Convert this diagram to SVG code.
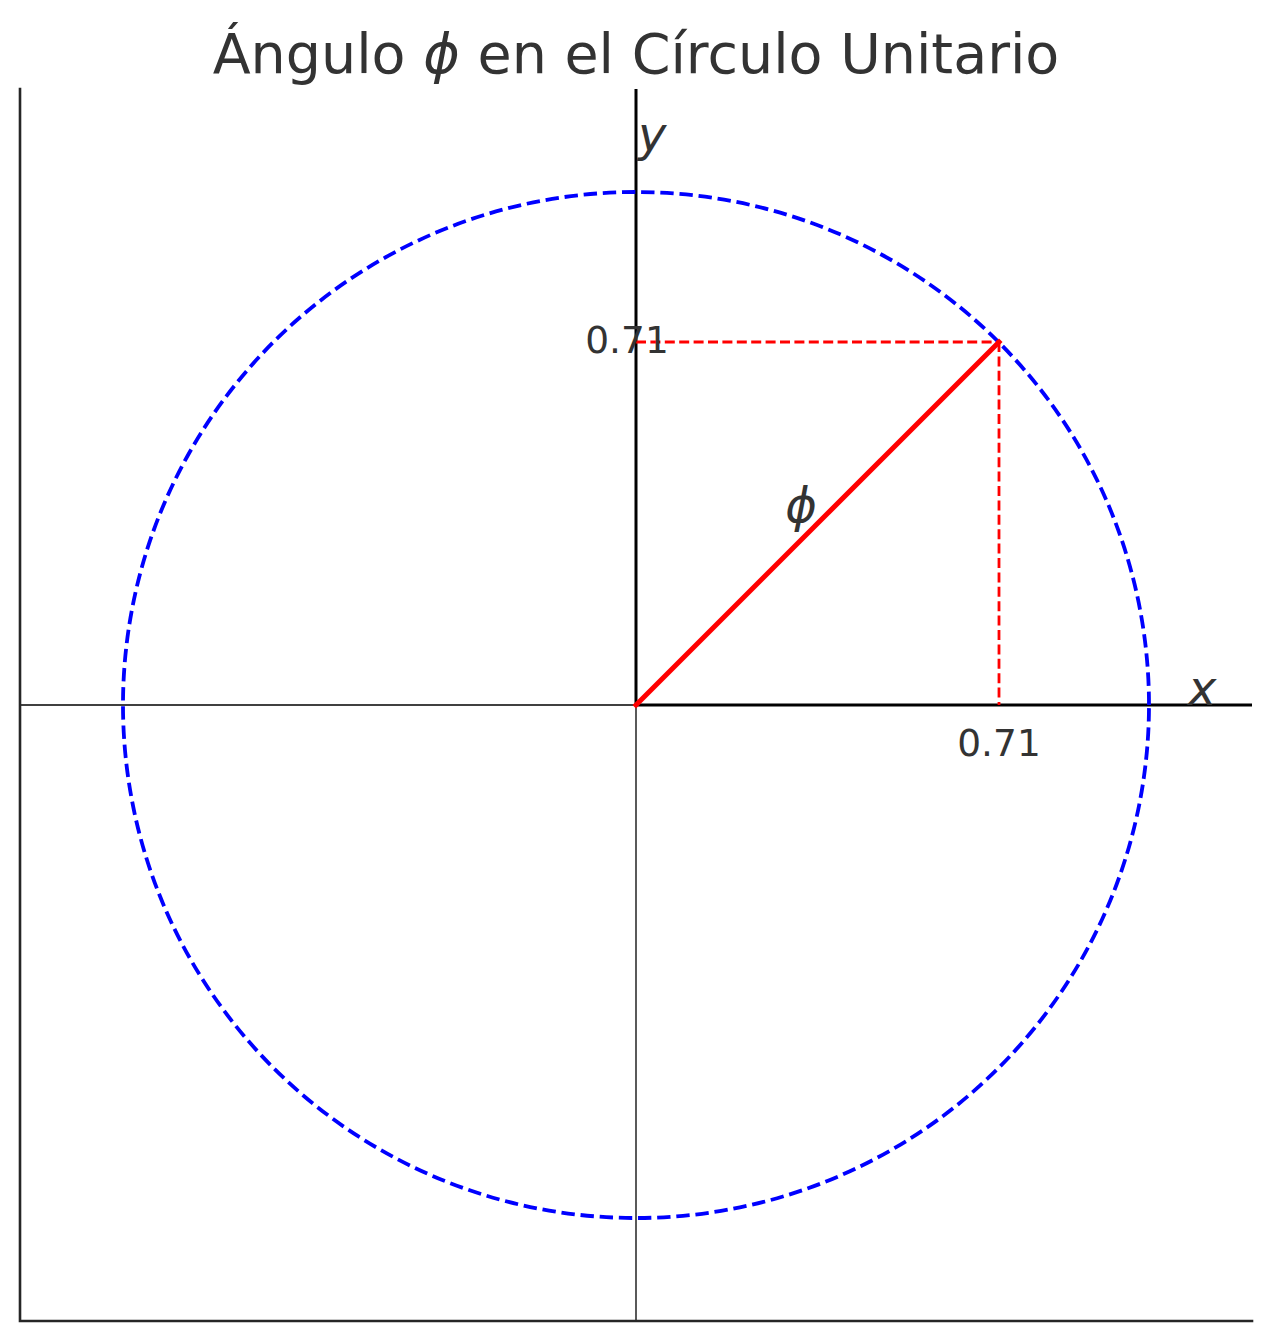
<svg xmlns="http://www.w3.org/2000/svg" width="1272" height="1341" viewBox="0 0 1272 1341">
<style>
text { font-family: "DejaVu Sans", "Liberation Sans", sans-serif; fill: #333333; }
.title { font-size: 55.5px; text-anchor: middle; }
.math { font-style: italic; font-size: 48px; }
.tick { font-size: 37.5px; }
.spine { stroke: #262626; stroke-width: 2.6; fill: none; stroke-linecap: square; }
.thin { stroke: #000000; stroke-width: 1.3; }
.thick { stroke: #000000; stroke-width: 3; }
.reddash { stroke: #ff0000; stroke-width: 2.8; stroke-dasharray: 10 4.4; fill: none; }
.vec { stroke: #ff0000; stroke-width: 5; stroke-linecap: square; }
.circ { stroke: #0000ff; stroke-width: 3.8; stroke-dasharray: 13.4 5.8; fill: none; }
</style>
<rect width="1272" height="1341" fill="#ffffff"/>
<g id="axes">
<line class="thin" x1="20" y1="705" x2="1252" y2="705"/>
<line class="thin" x1="636" y1="89" x2="636" y2="1321"/>
<line class="thick" x1="636" y1="705" x2="1252" y2="705"/>
<line class="thick" x1="636" y1="705" x2="636" y2="89"/>
<path class="spine" d="M20 89 V1321 H1252"/>
</g>
<g id="unit-circle">
<path class="circ" d="M1149 705 A513 513 0 0 0 123 705 A513 513 0 0 0 1149 705"/>
</g>
<g id="connectors">
<line class="reddash" x1="636" y1="342" x2="999" y2="342"/>
<line class="reddash" x1="999" y1="342" x2="999" y2="705"/>
<line class="vec" x1="636" y1="705" x2="999" y2="342"/>
</g>
<g id="labels">
<text class="title" x="636" y="73">Ángulo <tspan font-style="italic">ϕ</tspan> en el Círculo Unitario</text>
<text class="math" x="638" y="151">y</text>
<text class="math" x="1188" y="705">x</text>
<text class="math" x="801" y="522" text-anchor="middle">ϕ</text>
<text class="tick" x="627" y="353" text-anchor="middle">0.71</text>
<text class="tick" x="999" y="756" text-anchor="middle">0.71</text>
</g>
</svg>
